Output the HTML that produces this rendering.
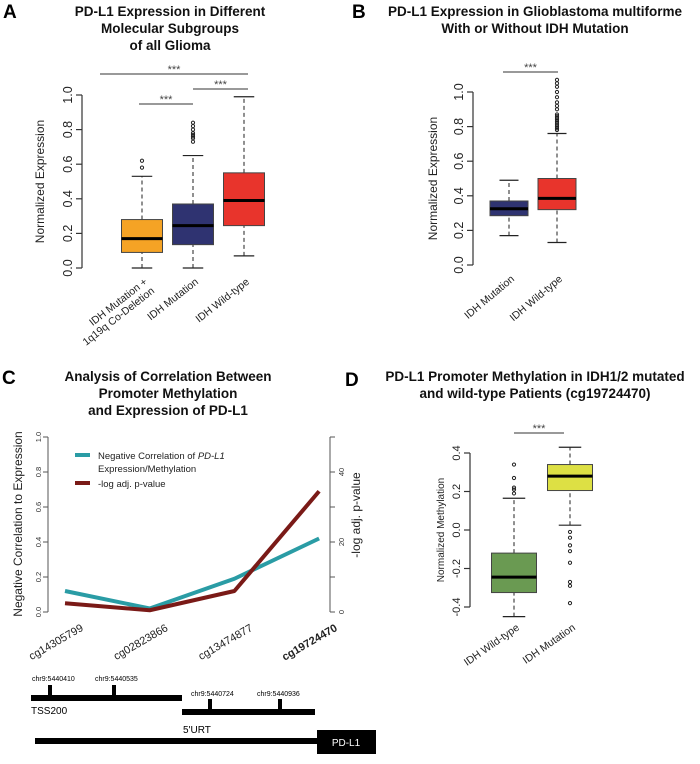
<!DOCTYPE html>
<html><head><meta charset="utf-8"><style>
body{margin:0;background:#fff;width:700px;height:759px;overflow:hidden}
svg{font-family:"Liberation Sans",Arial,sans-serif}
</style></head><body>
<svg id="fig" width="700" height="759" viewBox="0 0 700 759">
<g font-weight="bold" font-size="19" fill="#000">
<text x="3" y="18">A</text>
<text x="352" y="18">B</text>
<text x="2" y="384">C</text>
<text x="345" y="386">D</text>
</g>
<g font-weight="bold" font-size="13.5" text-anchor="middle" fill="#111">
<text x="170" y="16"><tspan x="170">PD-L1 Expression in Different</tspan><tspan x="170" dy="17">Molecular Subgroups</tspan><tspan x="170" dy="17">of all Glioma</tspan></text>
<text x="535" y="16"><tspan x="535">PD-L1 Expression in Glioblastoma multiforme</tspan><tspan x="535" dy="17">With or Without IDH Mutation</tspan></text>
<text x="168" y="381"><tspan x="168">Analysis of Correlation Between</tspan><tspan x="168" dy="17">Promoter Methylation</tspan><tspan x="168" dy="17">and Expression of PD-L1</tspan></text>
<text x="535" y="381"><tspan x="535">PD-L1 Promoter Methylation in IDH1/2 mutated</tspan><tspan x="535" dy="17">and wild-type Patients (cg19724470)</tspan></text>
</g>
<g id="gA"></g>
<g id="gB"></g>
<g id="gC"></g>
<g id="gD"></g>
<g fill="#000">
<rect x="31" y="695" width="151" height="6"/>
<rect x="48" y="685" width="4" height="12"/>
<rect x="112" y="685" width="4" height="12"/>
<rect x="182" y="709" width="133" height="6"/>
<rect x="208" y="699" width="4" height="12"/>
<rect x="278" y="699" width="4" height="12"/>
<rect x="35" y="738" width="284" height="6"/>
<rect x="317" y="730" width="59" height="24"/>
<g font-size="7">
<text x="32" y="681">chr9:5440410</text>
<text x="95" y="681">chr9:5440535</text>
<text x="191" y="696">chr9:5440724</text>
<text x="257" y="696">chr9:5440936</text>
</g>
<text x="31" y="714" font-size="10">TSS200</text>
<text x="183" y="733" font-size="10">5'URT</text>
<text x="346" y="746" font-size="10" fill="#fff" text-anchor="middle">PD-L1</text>
</g>
</svg>
<script>
// Panel A data
const aCats=["IDH Mutation +|1q19q Co-Deletion","IDH Mutation","IDH Wild-type"];
const aLow=[0.0,0.0,0.07];
const aQ1=[0.09,0.135,0.245];
const aMed=[0.17,0.245,0.39];
const aQ3=[0.28,0.37,0.55];
const aHigh=[0.53,0.65,0.99];
const aOut=[[0.58,0.62],[0.73,0.75,0.76,0.77,0.78,0.8,0.82,0.84],[]];
const aColors=["#f5a325","#2f3371","#e8342c"];
const aTicks=[0,0.2,0.4,0.6,0.8,1.0];
// Panel B data
const bCats=["IDH Mutation","IDH Wild-type"];
const bLow=[0.17,0.13];
const bQ1=[0.285,0.32];
const bMed=[0.325,0.385];
const bQ3=[0.37,0.50];
const bHigh=[0.49,0.76];
const bOut=[[],[0.78,0.79,0.8,0.81,0.82,0.83,0.84,0.85,0.86,0.87,0.9,0.92,0.94,0.97,1.0,1.03,1.05,1.07]];
const bColors=["#2f3371","#e8342c"];
const bTicks=[0,0.2,0.4,0.6,0.8,1.0];
// Panel C data
const cCats=["cg14305799","cg02823866","cg13474877","cg19724470"];
const cCorr=[0.12,0.02,0.19,0.42];
const cLogP=[2.5,0.5,6,34.5];
const cLeftTicks=[0,0.2,0.4,0.6,0.8,1.0];
const cRightTicks=[0,20,40];
// Panel D data
const dCats=["IDH Wild-type","IDH Mutation"];
const dLow=[-0.45,0.025];
const dQ1=[-0.325,0.205];
const dMed=[-0.245,0.28];
const dQ3=[-0.12,0.34];
const dHigh=[0.165,0.43];
const dOut=[[0.19,0.21,0.22,0.27,0.34],[-0.01,-0.04,-0.08,-0.11,-0.17,-0.27,-0.29,-0.38]];
const dColors=["#6a9a52","#dde044"];
const dTicks=[-0.4,-0.2,0.0,0.2,0.4];

const NS="http://www.w3.org/2000/svg";
function mk(p,tag,at){const e=document.createElementNS(NS,tag);for(const k in at)e.setAttribute(k,at[k]);p.appendChild(e);return e;}

function boxplot(g,o){
  const y=v=>o.y0-(v-o.vmin)/(o.vmax-o.vmin)*(o.y0-o.y1);
  const ax=mk(g,'line',{x1:o.ax,x2:o.ax,y1:y(o.ticks[0]),y2:y(o.ticks[o.ticks.length-1]),stroke:'#333','stroke-width':1.2});
  
  
  o.ticks.forEach(t=>{
    const tl=mk(g,'line',{x1:o.ax-6,x2:o.ax,y1:y(t),y2:y(t),stroke:'#333','stroke-width':1.2});
    
    
    const tx=mk(g,'text',{x:o.ax-10,y:y(t),'font-size':o.tfs,'text-anchor':'middle',transform:`rotate(-90 ${o.ax-10} ${y(t)})`,fill:'#222'});
    tx.textContent=t.toFixed(1);
    
    
  });
  const yl=mk(g,'text',{x:o.ylx,y:(y(o.ticks[0])+y(o.ticks[o.ticks.length-1]))/2,'font-size':o.yfs,'text-anchor':'middle',transform:`rotate(-90 ${o.ylx} ${(y(o.ticks[0])+y(o.ticks[o.ticks.length-1]))/2})`,fill:'#222'});
  yl.textContent=o.ylabel;
  
  
  o.cats.forEach((c,i)=>{
    const cx=o.x0+i*o.step,hw=o.w/2;
    const bg=mk(g,'g',{});
    
    
    mk(bg,'line',{x1:cx,x2:cx,y1:y(o.low[i]),y2:y(o.q1[i]),stroke:'#222','stroke-dasharray':'4 3'});
    mk(bg,'line',{x1:cx,x2:cx,y1:y(o.q3[i]),y2:y(o.high[i]),stroke:'#222','stroke-dasharray':'4 3'});
    mk(bg,'line',{x1:cx-hw/2,x2:cx+hw/2,y1:y(o.low[i]),y2:y(o.low[i]),stroke:'#222','stroke-width':1.2});
    mk(bg,'line',{x1:cx-hw/2,x2:cx+hw/2,y1:y(o.high[i]),y2:y(o.high[i]),stroke:'#222','stroke-width':1.2});
    mk(bg,'rect',{x:cx-hw,y:y(o.q3[i]),width:o.w,height:y(o.q1[i])-y(o.q3[i]),fill:o.colors[i],stroke:'#444','stroke-width':1});
    mk(bg,'line',{x1:cx-hw,x2:cx+hw,y1:y(o.med[i]),y2:y(o.med[i]),stroke:'#000','stroke-width':3});
    o.out[i].forEach(v=>mk(bg,'circle',{cx:cx,cy:y(v),r:1.6,fill:'none',stroke:'#222','stroke-width':1}));
    const lines=c.split('|');
    const lx=cx+6,ly=o.y0+o.ld;
    const t=mk(g,'text',{x:lx,y:ly,'font-size':o.xfs,'text-anchor':'end',transform:`rotate(-${o.rot} ${lx} ${ly})`,fill:'#222'});
    lines.forEach((s,j)=>{const ts=mk(t,'tspan',{x:lx,dy:j?o.xfs+1:0});ts.textContent=s;});
    
    
  });
  o.sig.forEach(s=>{
    const l=mk(g,'line',{x1:s[0],x2:s[1],y1:s[2],y2:s[2],stroke:'#333','stroke-width':1});
    
    
    const st=mk(g,'text',{x:(s[0]+s[1])/2,y:s[2]-1,'font-size':11,'text-anchor':'middle',fill:'#444'});
    st.textContent='***';
    
    
  });
}
boxplot(document.getElementById('gA'),{cats:aCats,low:aLow,q1:aQ1,med:aMed,q3:aQ3,high:aHigh,out:aOut,colors:aColors,ticks:aTicks,vmin:0,vmax:1,y0:268,y1:95,ax:82,x0:142,step:51,w:41,tfs:12.5,yfs:12,ylx:44,xfs:10.5,rot:38,ld:15,ylabel:'Normalized Expression',sig:[[100,248,74],[193,248,89],[139,193,104]]});
boxplot(document.getElementById('gB'),{cats:bCats,low:bLow,q1:bQ1,med:bMed,q3:bQ3,high:bHigh,out:bOut,colors:bColors,ticks:bTicks,vmin:0,vmax:1,y0:265,y1:92,ax:473,x0:509,step:48,w:38,tfs:12.5,yfs:12,ylx:437,xfs:10.5,rot:40,ld:15,ylabel:'Normalized Expression',sig:[[503,558,72]]});
boxplot(document.getElementById('gD'),{cats:dCats,low:dLow,q1:dQ1,med:dMed,q3:dQ3,high:dHigh,out:dOut,colors:dColors,ticks:dTicks,vmin:-0.4,vmax:0.4,y0:607,y1:453,ax:470,x0:514,step:56,w:45,tfs:11,yfs:10,ylx:444,xfs:10.5,rot:35,ld:22,ylabel:'Normalized Methylation',sig:[[514,564,433]]});

// Panel C
(function(){
  const g=document.getElementById('gC');
  const y0=612,y1=437,lx=48,rx=330;
  const xs=i=>65+i*84.7;
  const yl=v=>y0-v*(y0-y1);
  const yr=v=>y0-v/50*(y0-y1);
  let a=mk(g,'line',{x1:lx,x2:lx,y1:y0,y2:y1,stroke:'#555'});
  
  cLeftTicks.forEach(t=>{
    mk(g,'line',{x1:lx-5,x2:lx,y1:yl(t),y2:yl(t),stroke:'#555'});
    const tx=mk(g,'text',{x:lx-7,y:yl(t),'font-size':7.5,'text-anchor':'middle',transform:`rotate(-90 ${lx-7} ${yl(t)})`,fill:'#333'});
    tx.textContent=t.toFixed(1);
    
  });
  a=mk(g,'line',{x1:rx,x2:rx,y1:y0,y2:y1,stroke:'#555'});
  
  [0,10,20,30,40,50].forEach(t=>mk(g,'line',{x1:rx,x2:rx+5,y1:yr(t),y2:yr(t),stroke:'#555'}));
  cRightTicks.forEach(t=>{
    const tx=mk(g,'text',{x:rx+14,y:yr(t),'font-size':7.5,'text-anchor':'middle',transform:`rotate(-90 ${rx+14} ${yr(t)})`,fill:'#333'});
    tx.textContent=t;
    
  });
  let t=mk(g,'text',{x:22,y:524,'font-size':12,'text-anchor':'middle',transform:'rotate(-90 22 524)',fill:'#222'});
  t.textContent='Negative Correlation to Expression';
  
  t=mk(g,'text',{x:360,y:515,'font-size':12,'text-anchor':'middle',transform:'rotate(-90 360 515)',fill:'#222'});
  t.textContent='-log adj. p-value';
  
  const p1=mk(g,'polyline',{points:cCorr.map((v,i)=>xs(i)+','+yl(v)).join(' '),fill:'none',stroke:'#2a9ca5','stroke-width':4,'stroke-linejoin':'round'});
  
  const p2=mk(g,'polyline',{points:cLogP.map((v,i)=>xs(i)+','+yr(v)).join(' '),fill:'none',stroke:'#7a1a17','stroke-width':4,'stroke-linejoin':'round'});
  
  cCats.forEach((c,i)=>{
    const x=xs(i)+19,y=630;
    const tx=mk(g,'text',{x:x,y:y,'font-size':11,'text-anchor':'end',transform:`rotate(-30 ${x} ${y})`,fill:'#222','font-weight':i==3?'bold':'normal'});
    tx.textContent=c;
    
  });
  const lg=mk(g,'g',{});
  
  mk(lg,'line',{x1:75,x2:90,y1:455,y2:455,stroke:'#2a9ca5','stroke-width':4});
  mk(lg,'line',{x1:75,x2:90,y1:483,y2:483,stroke:'#7a1a17','stroke-width':4});
  let l=mk(lg,'text',{x:98,y:459,'font-size':9.5,fill:'#222'});
  l.innerHTML='Negative Correlation of <tspan font-style="italic">PD-L1</tspan>';
  l=mk(lg,'text',{x:98,y:472,'font-size':9.5,fill:'#222'});l.textContent='Expression/Methylation';
  l=mk(lg,'text',{x:98,y:487,'font-size':9.5,fill:'#222'});l.textContent='-log adj. p-value';
})();
</script>
</body></html>
